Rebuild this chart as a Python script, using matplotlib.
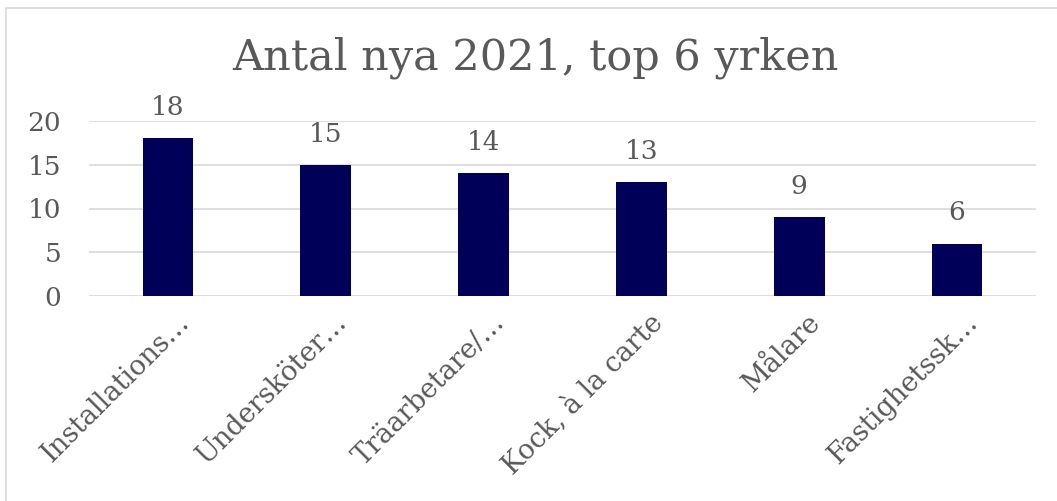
import matplotlib.pyplot as plt
import matplotlib.transforms as mtransforms
from matplotlib.patches import Rectangle

# Chart data
categories = ['Installations…', 'Undersköter…', 'Träarbetare/…', 'Kock, à la carte', 'Målare', 'Fastighetssk…']
values = [18, 15, 14, 13, 9, 6]
yticks = [0, 5, 10, 15, 20]

text_color = '#595959'
bar_color = '#000058'
grid_color = '#d9d9d9'

plt.rcParams['font.family'] = ['DejaVu Serif']

fig = plt.figure(figsize=(10.57, 5.01), dpi=100)
ax = fig.add_axes([89 / 1057, 1 - 296 / 501, (1036 - 89) / 1057, (296 - 121) / 501])

# chart border
fig.patches.append(Rectangle((6 / 1057, -0.1), 1.2, 1 - 8 / 501 + 0.1, transform=fig.transFigure,
                             fill=False, edgecolor=grid_color, linewidth=1.2))

x = range(len(categories))
ax.bar(x, values, width=0.32, color=bar_color, zorder=3)

for i, v in enumerate(values):
    ax.annotate(str(v), (i, v), xytext=(0, 13), textcoords='offset points',
                ha='center', va='bottom', fontsize=19, color=text_color)

ax.set_xlim(-0.5, len(categories) - 0.5)
ax.set_ylim(0, 20)
ax.set_yticks(yticks)
ax.set_yticklabels([str(t) for t in yticks], fontsize=19, color=text_color)
ax.set_xticks(list(x))
ax.set_xticklabels(categories, rotation=45, ha='right', va='center', rotation_mode='anchor',
                   fontsize=19.5, color=text_color)
ax.tick_params(axis='both', length=0)
ax.tick_params(axis='y', pad=20)
ax.tick_params(axis='x', pad=16)

# shift the rotated labels a bit to the right
shift = mtransforms.ScaledTranslation(17 / 100, 0, fig.dpi_scale_trans)
for lbl in ax.get_xticklabels():
    lbl.set_transform(lbl.get_transform() + shift)

ax.grid(axis='y', color=grid_color, linewidth=1.2, zorder=0)
for s in ax.spines.values():
    s.set_visible(False)

fig.text(535 / 1057, 1 - 58 / 501, 'Antal nya 2021, top 6 yrken', ha='center', va='center',
         fontsize=31, color=text_color)

plt.savefig('out.png', dpi=100)
